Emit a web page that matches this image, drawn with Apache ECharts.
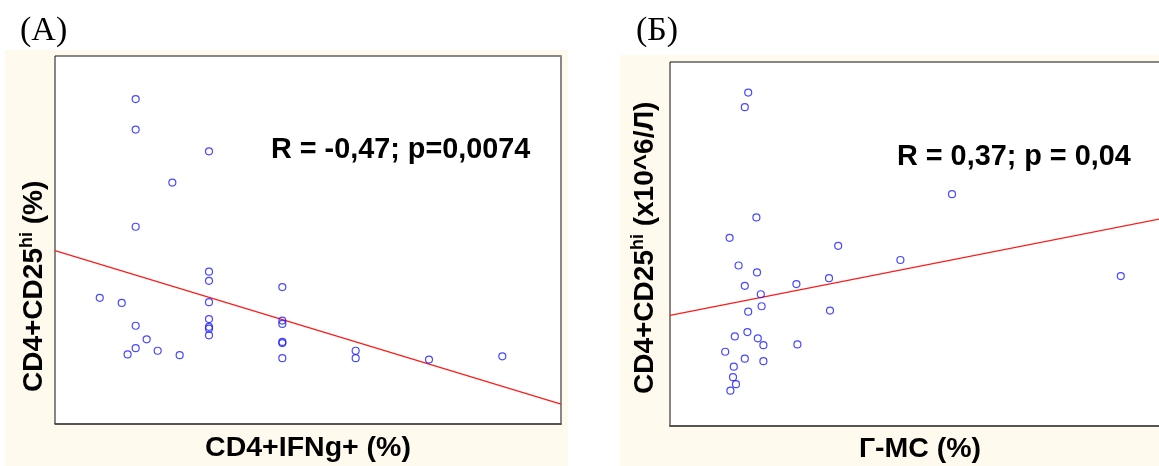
<!DOCTYPE html>
<html>
<head>
<meta charset="utf-8">
<script src="https://cdn.jsdelivr.net/npm/echarts@6/dist/echarts.min.js"></script>
<style>
html,body{margin:0;padding:0;background:#fff;}
#c{width:1159px;height:466px;}
</style>
</head>
<body>
<div id="c"></div>
<script>
// Panel A: CD4+IFNg+ (x) vs CD4+CD25hi (y)
var aX = [1.0, 1.0, 2.0, 1.5, 1.0, 2.0, 2.0, 3.0, 0.51, 0.81, 2.0, 1.0, 2.0, 2.0, 2.0, 2.0, 3.0, 3.0, 3.0, 3.0, 3.0, 1.15, 1.0, 0.89, 1.3, 1.6, 4.0, 4.0, 5.0, 6.0];
var aY = [8.83, 8.00, 7.41, 6.56, 5.36, 4.14, 3.89, 3.72, 3.43, 3.29, 3.31, 2.67, 2.85, 2.64, 2.59, 2.41, 2.81, 2.72, 2.23, 2.20, 1.79, 2.30, 2.06, 1.89, 1.99, 1.87, 1.99, 1.79, 1.75, 1.84];
var aFitX = [-0.1, 6.8];
var aFitY = [4.71, 0.54];

// Panel B: Г-МС (x) vs CD4+CD25hi x10^6/Л (y)
var bX = [3.91, 3.74, 14.10, 4.32, 2.98, 8.41, 11.52, 3.43, 4.35, 22.54, 7.95, 3.74, 6.32, 4.54, 4.58, 3.91, 8.00, 3.87, 3.24, 4.39, 4.67, 6.37, 2.76, 3.74, 4.67, 3.19, 3.15, 3.30, 3.02];
var bY = [9.16, 8.76, 6.37, 5.73, 5.17, 4.95, 4.56, 4.41, 4.22, 4.12, 4.06, 3.85, 3.90, 3.62, 3.29, 3.14, 3.17, 2.58, 2.46, 2.41, 2.22, 2.24, 2.04, 1.85, 1.78, 1.63, 1.34, 1.15, 0.97];
var bFitX = [0, 25];
var bFitY = [3.04, 5.74];

var titles = ['(A)', '(Б)'];
var xNames = ['CD4+IFNg+ (%)', 'Г-МС (%)'];
var yNames = ['{a|CD4+CD25}{s|hi}{a| (%)}', '{a|CD4+CD25}{s|hi}{a| (x10^6/Л)}'];
var stats = ['R = -0,47; p=0,0074', 'R = 0,37; p = 0,04'];

function zip(xs, ys) { return xs.map(function (v, i) { return [v, ys[i]]; }); }

var SANS = '"Liberation Sans", Arial, sans-serif';
var SERIF = '"Liberation Serif", "Times New Roman", serif';
var CREAM = '#fff9ee';

function hiddenAxis(extra) {
  var o = {
    type: 'value',
    axisLine: { show: false },
    axisTick: { show: false },
    axisLabel: { show: false },
    splitLine: { show: false }
  };
  for (var k in extra) o[k] = extra[k];
  return o;
}

var richY = {
  a: { fontFamily: SANS, fontWeight: 'bold', fontSize: 28, fill: '#000', lineHeight: 32 },
  s: { fontFamily: SANS, fontWeight: 'bold', fontSize: 18, fill: '#000', verticalAlign: 'top', lineHeight: 20 }
};

function txt(x, y, text, font, size, align, extra) {
  var el = {
    type: 'text', x: x, y: y, z: 10,
    style: {
      text: text, fontFamily: font, fontSize: size, fontWeight: extra && extra.bold ? 'bold' : 'normal',
      fill: '#000', align: align, textAlign: align, verticalAlign: 'middle', textVerticalAlign: 'middle'
    }
  };
  if (extra && extra.rotation) el.rotation = extra.rotation;
  if (extra && extra.rich) el.style.rich = extra.rich;
  return el;
}

var xNameStyle = { fontFamily: SANS, fontWeight: 'bold', fontSize: 28.5, color: '#000', verticalAlign: 'top' };

var option = {
  animation: false,
  backgroundColor: '#fff',
  graphic: [
    { type: 'rect', z: -10, shape: { x: 5, y: 50, width: 563, height: 416 }, style: { fill: CREAM } },
    { type: 'rect', z: -10, shape: { x: 620, y: 55, width: 539, height: 411 }, style: { fill: CREAM } },
    txt(20, 31, titles[0], SERIF, 34, 'left'),
    txt(636, 31, titles[1], SERIF, 34, 'left'),
    txt(271, 150, stats[0], SANS, 28.8, 'left', { bold: true }),
    txt(897, 157, stats[1], SANS, 28.8, 'left', { bold: true }),
    txt(34, 392, yNames[0], SANS, 28, 'left', { bold: true, rotation: Math.PI / 2, rich: richY }),
    txt(645, 394, yNames[1], SANS, 28, 'left', { bold: true, rotation: Math.PI / 2, rich: richY })
  ],
  grid: [
    { left: 55, top: 56, width: 506, height: 368, show: true, backgroundColor: '#fff', borderColor: '#111', borderWidth: 1, outerBoundsMode: 'none', containLabel: false },
    { left: 670, top: 62, width: 500, height: 364, show: true, backgroundColor: '#fff', borderColor: '#111', borderWidth: 1, outerBoundsMode: 'none', containLabel: false }
  ],
  xAxis: [
    hiddenAxis({ gridIndex: 0, min: -0.1, max: 6.8, name: xNames[0], nameLocation: 'middle', nameGap: 10, nameTextStyle: xNameStyle,
      axisLine: { show: true, onZero: false, lineStyle: { color: '#444', width: 1.6 } } }),
    hiddenAxis({ gridIndex: 1, min: 0, max: 25, name: xNames[1], nameLocation: 'middle', nameGap: 9, nameTextStyle: xNameStyle,
      axisLine: { show: true, onZero: false, lineStyle: { color: '#555', width: 2 } } })
  ],
  yAxis: [
    hiddenAxis({ gridIndex: 0, min: 0, max: 10 }),
    hiddenAxis({ gridIndex: 1, min: 0, max: 10 }),
    hiddenAxis({ gridIndex: 0, min: 0, max: 10, position: 'right',
      axisLine: { show: true, onZero: false, lineStyle: { color: '#888', width: 2 } } })
  ],
  series: [
    {
      type: 'scatter', xAxisIndex: 0, yAxisIndex: 0, data: zip(aX, aY), symbol: 'circle', symbolSize: 7,
      itemStyle: { color: 'rgba(0,0,0,0)', borderColor: '#1a1aff', borderWidth: 1.2 }, z: 3
    },
    {
      type: 'line', xAxisIndex: 0, yAxisIndex: 0, data: zip(aFitX, aFitY), symbol: 'none',
      lineStyle: { color: '#ff1a1a', width: 1.2 }, z: 2
    },
    {
      type: 'scatter', xAxisIndex: 1, yAxisIndex: 1, data: zip(bX, bY), symbol: 'circle', symbolSize: 7,
      itemStyle: { color: 'rgba(0,0,0,0)', borderColor: '#1a1aff', borderWidth: 1.2 }, z: 3
    },
    {
      type: 'line', xAxisIndex: 1, yAxisIndex: 1, data: zip(bFitX, bFitY), symbol: 'none',
      lineStyle: { color: '#ff1a1a', width: 1.2 }, z: 2
    }
  ]
};

var chart = echarts.init(document.getElementById('c'), null, { renderer: 'canvas' });
chart.setOption(option);
</script>
</body>
</html>
